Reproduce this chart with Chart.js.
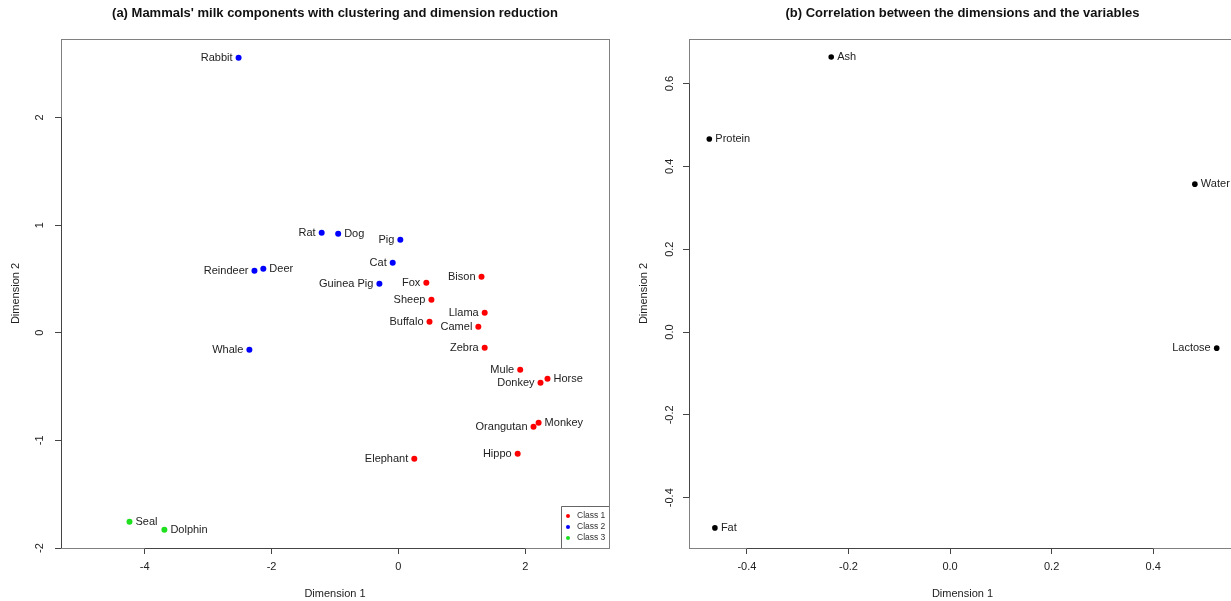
<!DOCTYPE html>
<html>
<head>
<meta charset="utf-8">
<title>Mammals' milk components</title>
<script src="https://cdn.jsdelivr.net/npm/chart.js@4.4.1/dist/chart.umd.min.js"></script>
<style>
  html, body { margin: 0; padding: 0; background: #fff; overflow: hidden; }
  #wrap { position: relative; width: 1231px; height: 601px; overflow: hidden; }
  canvas { position: absolute; top: 0; }
  #chartA { left: 0; }
  #chartB { left: 620px; }
</style>
</head>
<body>
<div id="wrap">
  <canvas id="chartA" width="620" height="601"></canvas>
  <canvas id="chartB" width="640" height="601"></canvas>
</div>
<script>
// Panel (a): mammals on the first two dimensions, coloured by cluster
const animals = ['Rabbit', 'Rat', 'Dog', 'Pig', 'Cat', 'Reindeer', 'Deer', 'Guinea Pig', 'Whale',
    'Fox', 'Bison', 'Sheep', 'Llama', 'Buffalo', 'Camel', 'Zebra', 'Mule', 'Horse', 'Donkey',
    'Monkey', 'Orangutan', 'Hippo', 'Elephant', 'Seal', 'Dolphin'];
const dim1 = [-2.52, -1.21, -0.95, 0.03, -0.09, -2.27, -2.13, -0.30, -2.35,
    0.44, 1.31, 0.52, 1.36, 0.49, 1.26, 1.36, 1.92, 2.35, 2.24,
    2.21, 2.13, 1.88, 0.25, -4.24, -3.69];
const dim2 = [2.556, 0.929, 0.92, 0.864, 0.65, 0.576, 0.595, 0.455, -0.158,
    0.465, 0.52, 0.307, 0.186, 0.102, 0.056, -0.139, -0.344, -0.428, -0.465,
    -0.836, -0.874, -1.124, -1.171, -1.756, -1.83];
const animalClass = [2, 2, 2, 2, 2, 2, 2, 2, 2,
    1, 1, 1, 1, 1, 1, 1, 1, 1, 1,
    1, 1, 1, 1, 3, 3];
// which side of the point the name sits on (L = left, R = right)
const animalSide = ['L', 'L', 'R', 'L', 'L', 'L', 'R', 'L', 'L',
    'L', 'L', 'L', 'L', 'L', 'L', 'L', 'L', 'R', 'L',
    'R', 'L', 'L', 'L', 'R', 'R'];

const classNames = ['Class 1', 'Class 2', 'Class 3'];
const classColors = ['#ff0000', '#0000ff', '#1ee01e'];

// Panel (b): variable correlations with the dimensions
const variables = ['Ash', 'Protein', 'Water', 'Lactose', 'Fat'];
const varDim1 = [-0.234, -0.474, 0.482, 0.525, -0.463];
const varDim2 = [0.664, 0.466, 0.357, -0.039, -0.473];
const varSide = ['R', 'R', 'R', 'L', 'R'];

const xTicksA = [-4, -2, 0, 2];
const yTicksA = [-2, -1, 0, 1, 2];
const xTicksB = [-0.4, -0.2, 0, 0.2, 0.4];
const yTicksB = [-0.4, -0.2, 0, 0.2, 0.4, 0.6];

const FONT = "'Liberation Sans', Arial, Helvetica, sans-serif";
Chart.defaults.font.family = FONT;
Chart.defaults.color = '#222';

const fmtInt = v => String(v);
const fmtOne = v => Number(v).toFixed(1);

function axis(min, max, ticks, fmt, isX, size) {
    return {
        type: 'linear',
        min, max,
        afterBuildTicks: s => { s.ticks = ticks.map(v => ({ value: v })); },
        afterFit: s => { if (isX) s.height = size; else s.width = size; },
        grid: { drawOnChartArea: false, drawTicks: true, tickLength: 6, color: '#444', lineWidth: 1 },
        border: { display: false },
        ticks: { display: isX, padding: 6, color: '#222', font: { size: 11 }, callback: v => fmt(v) }
    };
}

// Draws the R-style frame, rotated y labels, titles, point names and the legend
function decor(opts) {
    return {
        id: 'decor',
        afterDraw(chart) {
            const { ctx, chartArea: a } = chart;
            const xs = chart.scales.x, ys = chart.scales.y;
            ctx.save();

            // frame
            ctx.lineWidth = 1;
            ctx.strokeStyle = '#808080';
            ctx.strokeRect(Math.round(a.left) + 0.5, Math.round(a.top) + 0.5,
                Math.round(a.right - a.left), Math.round(a.bottom - a.top));
            // axis lines between first and last ticks
            ctx.strokeStyle = '#444';
            ctx.beginPath();
            const lx = Math.round(a.left) + 0.5, by = Math.round(a.bottom) + 0.5;
            ctx.moveTo(lx, ys.getPixelForValue(opts.yTicks[0]));
            ctx.lineTo(lx, ys.getPixelForValue(opts.yTicks[opts.yTicks.length - 1]));
            ctx.moveTo(xs.getPixelForValue(opts.xTicks[0]), by);
            ctx.lineTo(xs.getPixelForValue(opts.xTicks[opts.xTicks.length - 1]), by);
            ctx.stroke();

            // rotated y tick labels
            ctx.fillStyle = '#222';
            ctx.font = `11px ${FONT}`;
            ctx.textAlign = 'center';
            ctx.textBaseline = 'middle';
            opts.yTicks.forEach(v => {
                ctx.save();
                ctx.translate(a.left - opts.yLabelGap, ys.getPixelForValue(v));
                ctx.rotate(-Math.PI / 2);
                ctx.fillText(opts.fmt(v), 0, 0);
                ctx.restore();
            });

            // axis titles
            const cx = (a.left + a.right) / 2, cy = (a.top + a.bottom) / 2;
            ctx.fillText('Dimension 1', cx, 594);
            ctx.save();
            ctx.translate(opts.yTitleX, cy);
            ctx.rotate(-Math.PI / 2);
            ctx.fillText('Dimension 2', 0, 0);
            ctx.restore();

            // main title
            ctx.font = `bold 13px ${FONT}`;
            ctx.fillStyle = '#111';
            ctx.fillText(opts.title, cx, 13);

            // point names
            ctx.font = `11px ${FONT}`;
            ctx.fillStyle = '#222';
            const meta = chart.getDatasetMeta(0);
            opts.names.forEach((name, i) => {
                const p = meta.data[i];
                const left = opts.sides[i] === 'L';
                ctx.textAlign = left ? 'right' : 'left';
                ctx.fillText(name, p.x + (left ? -6 : 6), p.y);
            });

            // legend in the bottom-right corner
            if (opts.legend) {
                const bx = Math.round(a.right) - 47.5, bt = Math.round(a.bottom) - 41.5;
                ctx.strokeStyle = '#666';
                ctx.beginPath();
                ctx.moveTo(bx, Math.round(a.bottom));
                ctx.lineTo(bx, bt);
                ctx.lineTo(Math.round(a.right), bt);
                ctx.stroke();
                ctx.font = `8.5px ${FONT}`;
                ctx.textAlign = 'left';
                classNames.forEach((n, i) => {
                    const ry = a.bottom - 32 + i * 11;
                    ctx.fillStyle = classColors[i];
                    ctx.beginPath();
                    ctx.arc(a.right - 41, ry, 2, 0, Math.PI * 2);
                    ctx.fill();
                    ctx.fillStyle = '#333';
                    ctx.fillText(n, a.right - 32, ry);
                });
            }
            ctx.restore();
        }
    };
}

const baseOptions = {
    responsive: false,
    animation: false,
    devicePixelRatio: 1,
    plugins: { legend: { display: false }, tooltip: { enabled: false }, title: { display: false } }
};

new Chart(document.getElementById('chartA'), {
    type: 'scatter',
    data: {
        datasets: [{
            data: animals.map((a, i) => ({ x: dim1[i], y: dim2[i] })),
            pointRadius: 3,
            pointBorderWidth: 0,
            pointBackgroundColor: animalClass.map(c => classColors[c - 1])
        }]
    },
    options: {
        ...baseOptions,
        layout: { padding: { left: 0, right: 11, top: 39, bottom: 0 } },
        scales: {
            x: axis(-5.32, 3.32, xTicksA, fmtInt, true, 53),
            y: axis(-2.0, 2.73, yTicksA, fmtInt, false, 61)
        }
    },
    plugins: [decor({
        title: "(a) Mammals' milk components with clustering and dimension reduction",
        xTicks: xTicksA, yTicks: yTicksA, fmt: fmtInt,
        yLabelGap: 21, yTitleX: 16,
        names: animals, sides: animalSide, legend: true
    })]
});

new Chart(document.getElementById('chartB'), {
    type: 'scatter',
    data: {
        datasets: [{
            data: variables.map((v, i) => ({ x: varDim1[i], y: varDim2[i] })),
            pointRadius: 2.8,
            pointBorderWidth: 0,
            pointBackgroundColor: '#000'
        }]
    },
    options: {
        ...baseOptions,
        layout: { padding: { left: 0, right: 24, top: 39, bottom: 0 } },
        scales: {
            x: axis(-0.514, 0.563, xTicksB, fmtOne, true, 53),
            y: axis(-0.5215, 0.7075, yTicksB, fmtOne, false, 69)
        }
    },
    plugins: [decor({
        title: '(b) Correlation between the dimensions and the variables',
        xTicks: xTicksB, yTicks: yTicksB, fmt: fmtOne,
        yLabelGap: 19, yTitleX: 24,
        names: variables, sides: varSide, legend: false
    })]
});
</script>
</body>
</html>
